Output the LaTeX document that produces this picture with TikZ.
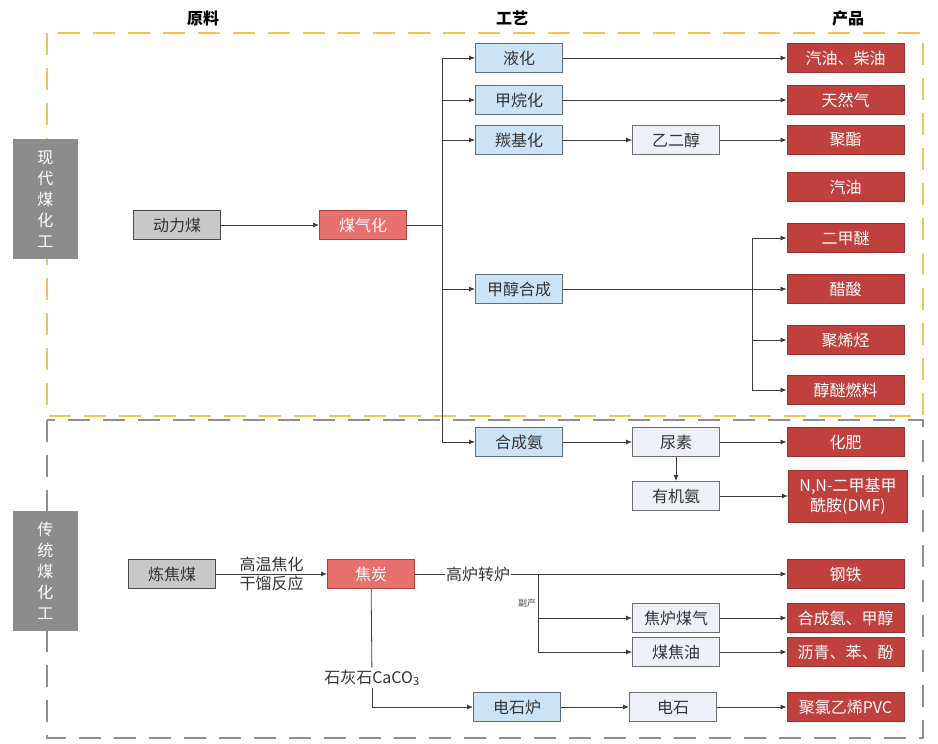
\documentclass[tikz,border=0pt]{standalone}
\usepackage{fontspec}
\setmainfont{Noto Sans CJK SC}
\usetikzlibrary{arrows.meta}
\definecolor{lnc}{HTML}{3C3C3C}
\definecolor{prodf}{HTML}{C0403D}
\definecolor{prodd}{HTML}{9E2F2C}
\definecolor{hotf}{HTML}{E8716E}
\definecolor{hotd}{HTML}{A94442}
\definecolor{procf}{HTML}{CCE3F5}
\definecolor{procd}{HTML}{5E6E80}
\definecolor{midf}{HTML}{EEF0F7}
\definecolor{midd}{HTML}{6E6E6E}
\definecolor{rawf}{HTML}{C8C8C8}
\definecolor{rawd}{HTML}{4A4A4A}
\definecolor{sidef}{HTML}{8C8C8C}
\definecolor{ylw}{HTML}{F3C25A}
\definecolor{gdash}{HTML}{8F8F8F}
\tikzset{
  box/.style={rectangle, inner sep=0pt, minimum width=87pt, minimum height=29pt, line width=1pt, font=\fontsize{16}{19}\selectfont},
  rawbox/.style={box, fill=rawf, draw=rawd, text=black!80},
  hotbox/.style={box, fill=hotf, draw=hotd, text=white},
  procbox/.style={box, fill=procf, draw=procd, text=black!80},
  midbox/.style={box, fill=midf, draw=midd, text=black!80},
  prodbox/.style={box, fill=prodf, draw=prodd, text=white, minimum width=117pt},
  sidebox/.style={rectangle, fill=sidef, text=white, minimum width=65pt, minimum height=120pt, inner sep=0pt, align=center, font=\fontsize{16}{21}\selectfont},
  hdr/.style={font=\fontsize{16}{19}\selectfont\bfseries, text=black},
  lbl/.style={font=\fontsize{16}{19}\selectfont, text=black!80, inner sep=2pt},
  tiny/.style={font=\fontsize{9}{10}\selectfont, text=black!70, inner sep=0pt},
  ln/.style={draw=lnc, line width=0.8pt},
  arr/.style={ln, -{Latex[length=6pt,width=5pt]}},
  dbox/.style={line width=1.6pt, dash pattern=on 22pt off 13pt}
}
\begin{document}
\begin{tikzpicture}[x=1pt,y=-1pt]
\useasboundingbox (0,0) rectangle (938,744);
% frames
\draw[dbox, draw=gdash] (47,420) rectangle (923,738);
\draw[dbox, draw=ylw] (47,33) rectangle (923,416);
% side labels
\node[sidebox] (s1) at (45.5,199) {现\\代\\煤\\化\\工};
\node[sidebox] (s2) at (45.5,571) {传\\统\\煤\\化\\工};
% headers
\node[hdr] (h1) at (203,18) {原料};
\node[hdr] (h2) at (512,18) {工艺};
\node[hdr] (h3) at (848,18) {产品};
% modern coal chemistry
\node[rawbox] (dlm) at (177,225) {动力煤};
\node[hotbox] (mqh) at (363,225) {煤气化};
\node[procbox] (yh) at (519,58) {液化};
\node[procbox] (jwh) at (519,100) {甲烷化};
\node[procbox] (tjh) at (519,140) {羰基化};
\node[procbox] (jchc) at (519,289) {甲醇合成};
\node[procbox] (hca) at (519,442) {合成氨};
\node[midbox] (yec) at (676,140) {乙二醇};
\node[midbox] (ns) at (676,442) {尿素};
\node[midbox] (yja) at (676,496) {有机氨};
\node[prodbox] (p1) at (845.5,58) {汽油、柴油};
\node[prodbox] (p2) at (845.5,100) {天然气};
\node[prodbox] (p3) at (845.5,140) {聚酯};
\node[prodbox] (p4) at (845.5,187) {汽油};
\node[prodbox] (p5) at (845.5,238) {二甲醚};
\node[prodbox] (p6) at (845.5,289) {醋酸};
\node[prodbox] (p7) at (845.5,340) {聚烯烃};
\node[prodbox] (p8) at (845.5,390) {醇醚燃料};
\node[prodbox] (p9) at (845.5,442) {化肥};
\node[prodbox, minimum width=119pt, minimum height=52pt, align=center, font=\fontsize{16}{20}\selectfont] (p10) at (848,496) {N,N-二甲基甲\\酰胺(DMF)};
% traditional coal chemistry
\node[rawbox] (ljm) at (172,574) {炼焦煤};
\node[hotbox] (jt) at (371,574) {焦炭};
\node[prodbox] (p11) at (845.5,574) {钢铁};
\node[midbox] (jlmq) at (676,618) {焦炉煤气};
\node[midbox] (mjy) at (676,652) {煤焦油};
\node[prodbox] (p12) at (845.5,618) {合成氨、甲醇};
\node[prodbox] (p13) at (845.5,652) {沥青、苯、酚};
\node[procbox] (dsl) at (517,707) {电石炉};
\node[midbox] (ds) at (673,707) {电石};
\node[prodbox] (p14) at (845.5,707) {聚氯乙烯PVC};
\node[lbl] (shs) at (372,678) {石灰石CaCO\textsubscript{3}};
\node[tiny] (fc) at (527,603) {副产};
% connectors (modern)
\coordinate (t) at (442,225);
\coordinate (b) at (752,289);
\draw[arr] (dlm) -- (mqh);
\draw[ln] (mqh.east) -- (t);
\draw[arr] (t) |- (yh);
\draw[arr] (t) |- (jwh);
\draw[arr] (t) |- (tjh);
\draw[arr] (t) |- (jchc);
\draw[arr] (t) |- (hca);
\draw[arr] (yh) -- (p1);
\draw[arr] (jwh) -- (p2);
\draw[arr] (tjh) -- (yec);
\draw[arr] (yec) -- (p3);
\draw[arr] (jchc) -- (p6);
\draw[arr] (b) |- (p5);
\draw[arr] (b) |- (p7);
\draw[arr] (b) |- (p8);
\draw[arr] (hca) -- (ns);
\draw[arr] (ns) -- (p9);
\draw[arr] (ns) -- (yja);
\draw[arr] (yja) -- (p10);
% connectors (traditional)
\coordinate (br) at (538,574);
\draw[arr] (ljm) -- node[lbl, above] {高温焦化} node[lbl, below] {干馏反应} (jt);
\draw[arr] (jt) -- node[lbl, pos=0.17, fill=white, inner sep=1pt] {高炉转炉} (p11);
\draw[arr] (br) |- (jlmq);
\draw[arr] (br) |- (mjy);
\draw[arr] (jlmq) -- (p12);
\draw[arr] (mjy) -- (p13);
\draw[ln] (jt) -- (shs);
\draw[arr] (shs) |- (dsl);
\draw[arr] (dsl) -- (ds);
\draw[arr] (ds) -- (p14);
\end{tikzpicture}
\end{document}
